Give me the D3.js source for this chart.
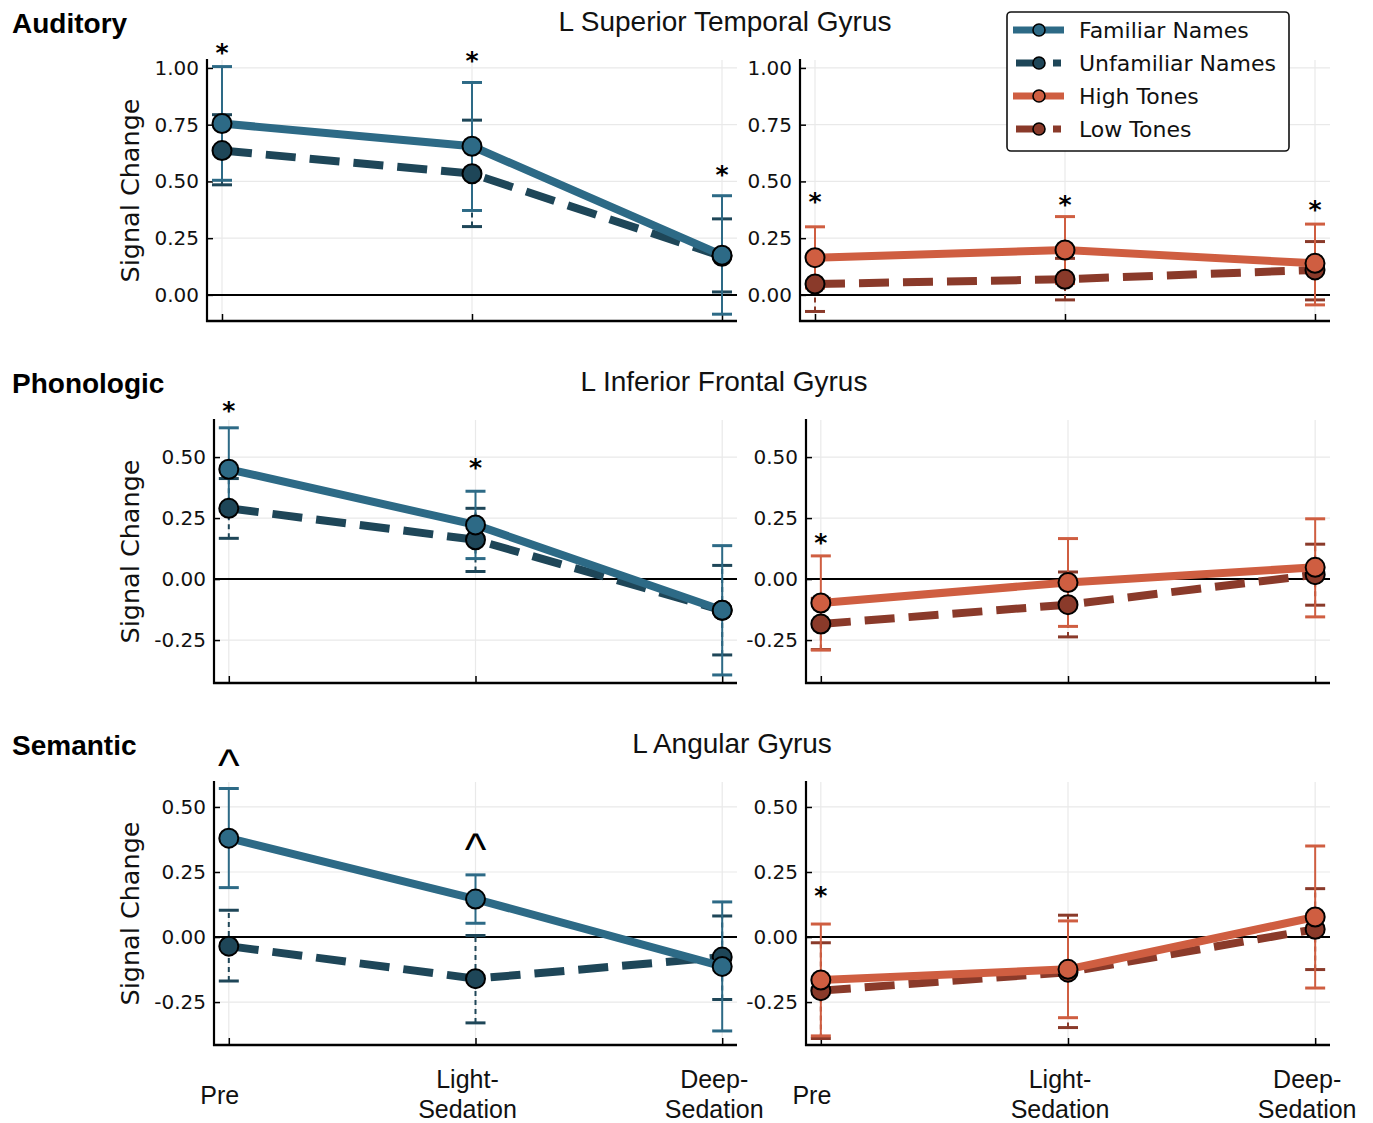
<!DOCTYPE html>
<html>
<head>
<meta charset="utf-8">
<script src="https://cdn.jsdelivr.net/npm/d3@7"></script>
<style>
body{margin:0;background:#fff}
svg{display:block}
</style>
</head>
<body>
<div id="chart"></div>
<script>
// data
var domains = ["Auditory","Phonologic","Semantic"]
var regions = ["L Superior Temporal Gyrus","L Inferior Frontal Gyrus","L Angular Gyrus"]
var stages = [["Pre"],["Light-","Sedation"],["Deep-","Sedation"]]
var yTicks = [[0,0.25,0.5,0.75,1.0],[-0.25,0,0.25,0.5],[-0.25,0,0.25,0.5]]

var familiarMean = [[0.755,0.655,0.175],[0.45,0.222,-0.128],[0.38,0.146,-0.113]]
var familiarLo   = [[0.505,0.372,-0.085],[0.28,0.084,-0.393],[0.19,0.053,-0.361]]
var familiarHi   = [[1.006,0.936,0.437],[0.62,0.36,0.137],[0.571,0.239,0.135]]

var unfamiliarMean = [[0.636,0.534,0.17],[0.29,0.161,-0.128],[-0.035,-0.16,-0.077]]
var unfamiliarLo   = [[0.485,0.301,0.013],[0.167,0.031,-0.311],[-0.169,-0.33,-0.24]]
var unfamiliarHi   = [[0.794,0.77,0.335],[0.412,0.29,0.056],[0.103,0.006,0.081]]

var highMean = [[0.164,0.198,0.139],[-0.098,-0.014,0.048],[-0.165,-0.124,0.077]]
var highLo   = [[0.03,0.05,-0.044],[-0.291,-0.194,-0.155],[-0.38,-0.31,-0.196]]
var highHi   = [[0.30,0.345,0.312],[0.095,0.166,0.247],[0.05,0.062,0.35]]

var lowMean = [[0.048,0.069,0.11],[-0.184,-0.105,0.018],[-0.206,-0.135,0.03]]
var lowLo   = [[-0.073,-0.022,-0.022],[-0.289,-0.237,-0.107],[-0.39,-0.348,-0.125]]
var lowHi   = [[0.169,0.161,0.235],[-0.079,0.029,0.143],[-0.022,0.084,0.186]]

// significance marks: [label, stage index, y value]
var namesMarks = [[["*",0,1.094],["*",1,1.057],["*",2,0.555]],[["*",0,0.712],["*",1,0.48]],[["^",0,0.686],["^",1,0.361]]]
var tonesMarks = [[["*",0,0.436],["*",1,0.421],["*",2,0.40]],[["*",0,0.174]],[["*",0,0.18]]]

var legendNames = ["Familiar Names","Unfamiliar Names","High Tones","Low Tones"]

// styling / layout
var cFam="#2d6a86", cUnf="#1e4658", cHigh="#cf5e41", cLow="#8a3a2a"
var rows=[
	{top:60,bottom:321,lefts:[207,800],yDom:[-0.115,1.035],titleX:725},
	{top:420,bottom:683,lefts:[214,806],yDom:[-0.426,0.652],titleX:724},
	{top:782,bottom:1045,lefts:[214,806],yDom:[-0.415,0.596],titleX:732}
]
var rights=[737,1330]
var tickFont="DejaVu Sans", helv="Liberation Sans, Arial, sans-serif"
var fmt=function(d){return d3.format(".2f")(d).replace("\u2212","-")}

var svg=d3.select("#chart").append("svg").attr("width",1373).attr("height",1123)

function drawPanel(ri,pi){
	var r=rows[ri]
	var left=r.lefts[pi], right=rights[pi]
	var x=d3.scaleLinear().domain([-0.06,2.06]).range([left,right])
	var y=d3.scaleLinear().domain(r.yDom).range([r.bottom,r.top])
	var g=svg.append("g")

	// grid
	g.selectAll(".gx").data(stages).enter().append("line")
		.attr("x1",function(d,i){return x(i)}).attr("x2",function(d,i){return x(i)})
		.attr("y1",r.top).attr("y2",r.bottom).attr("stroke","#e9e9e9").attr("stroke-width",1.2)
	g.selectAll(".gy").data(yTicks[ri]).enter().append("line")
		.attr("x1",left).attr("x2",right).attr("y1",function(d){return y(d)}).attr("y2",function(d){return y(d)})
		.attr("stroke","#e9e9e9").attr("stroke-width",1.2)
	// zero line
	g.append("line").attr("x1",left).attr("x2",right).attr("y1",y(0)).attr("y2",y(0)).attr("stroke","#000").attr("stroke-width",2)

	// axes
	var ya=d3.axisLeft(y).tickValues(yTicks[ri]).tickFormat(fmt).tickSize(-6).tickPadding(8)
	var yg=g.append("g").attr("transform","translate("+left+",0)").call(ya)
	yg.select(".domain").remove()
	yg.selectAll("line").attr("stroke","#000").attr("stroke-width",1.5)
	yg.selectAll("text").attr("font-family",tickFont).attr("font-size",20).attr("fill","#111")
	var xa=d3.axisBottom(x).tickValues([0,1,2]).tickFormat("").tickSize(-7)
	var xg=g.append("g").attr("transform","translate(0,"+r.bottom+")").call(xa)
	xg.select(".domain").remove()
	xg.selectAll("line").attr("stroke","#000").attr("stroke-width",1.5)
	g.append("line").attr("x1",left).attr("x2",left).attr("y1",r.top-1).attr("y2",r.bottom+1).attr("stroke","#000").attr("stroke-width",2.2)
	g.append("line").attr("x1",left-1).attr("x2",right).attr("y1",r.bottom).attr("y2",r.bottom).attr("stroke","#000").attr("stroke-width",2.4)

	var series = pi==0 ? [
		{color:cUnf,dashed:true,mean:unfamiliarMean[ri],lo:unfamiliarLo[ri],hi:unfamiliarHi[ri]},
		{color:cFam,dashed:false,mean:familiarMean[ri],lo:familiarLo[ri],hi:familiarHi[ri]}
	] : [
		{color:cLow,dashed:true,mean:lowMean[ri],lo:lowLo[ri],hi:lowHi[ri]},
		{color:cHigh,dashed:false,mean:highMean[ri],lo:highLo[ri],hi:highHi[ri]}
	]

	// error bars
	series.forEach(function(s){
		var eb=g.append("g")
		eb.selectAll("line.v").data(s.mean).enter().append("line")
			.attr("x1",function(d,i){return x(i)}).attr("x2",function(d,i){return x(i)})
			.attr("y1",function(d,i){return y(s.lo[i])}).attr("y2",function(d,i){return y(s.hi[i])})
			.attr("stroke",s.color).attr("stroke-width",2).attr("stroke-dasharray",s.dashed?"5,4":null)
		;["lo","hi"].forEach(function(k){
			eb.selectAll("line.c"+k).data(s[k]).enter().append("line")
				.attr("x1",function(d,i){return x(i)-10}).attr("x2",function(d,i){return x(i)+10})
				.attr("y1",function(d){return y(d)}).attr("y2",function(d){return y(d)})
				.attr("stroke",s.color).attr("stroke-width",3)
		})
	})
	// lines + markers
	series.forEach(function(s){
		var line=d3.line().x(function(d,i){return x(i)}).y(function(d){return y(d)})
		g.append("path").datum(s.mean).attr("d",line).attr("fill","none")
			.attr("stroke",s.color).attr("stroke-width",8)
			.attr("stroke-dasharray",s.dashed?"30,14":null)
		g.selectAll(null).data(s.mean).enter().append("circle")
			.attr("cx",function(d,i){return x(i)}).attr("cy",function(d){return y(d)}).attr("r",9.5)
			.attr("fill",s.color).attr("stroke","#000").attr("stroke-width",2)
	})

	// significance marks
	var marks = pi==0 ? namesMarks[ri] : tonesMarks[ri]
	g.selectAll(null).data(marks).enter().append("text")
		.attr("x",function(d){return x(d[1])})
		.attr("y",function(d){return d[0]=="*" ? y(d[2])+14 : y(d[2])+22})
		.attr("text-anchor","middle")
		.attr("font-family",function(d){return d[0]=="*"?tickFont:helv})
		.attr("font-weight",function(d){return d[0]=="*"?"bold":"normal"})
		.attr("font-size",function(d){return d[0]=="*"?25:46})
		.attr("fill","#000")
		.text(function(d){return d[0]})

	return x
}

rows.forEach(function(r,ri){
	drawPanel(ri,0)
	drawPanel(ri,1)
	svg.append("text").attr("x",12).attr("y",r.top-27).attr("font-family",helv).attr("font-weight","bold")
		.attr("font-size",28).attr("fill","#000").text(domains[ri])
	svg.append("text").attr("x",r.titleX).attr("y",r.top-29).attr("text-anchor","middle").attr("font-family",helv)
		.attr("font-size",28).attr("fill","#111").text(regions[ri])
	var cy=(r.top+r.bottom)/2
	svg.append("text").attr("transform","translate(139,"+cy+") rotate(-90)").attr("text-anchor","middle")
		.attr("font-family",tickFont).attr("font-size",25.5).attr("fill","#111").text("Signal Change")
})

// stage labels under the bottom row
var last=rows[2]
;[0,1].forEach(function(pi){
	var x=d3.scaleLinear().domain([-0.06,2.06]).range([last.lefts[pi],rights[pi]])
	stages.forEach(function(st,i){
		var t=svg.append("text").attr("text-anchor","middle").attr("font-family",helv).attr("font-size",25).attr("fill","#111")
		if(st.length==1){
			t.attr("x",x(i)-9).attr("y",1104).text(st[0])
		}else{
			st.forEach(function(s,j){
				t.append("tspan").attr("x",x(i)-8).attr("y",1088+j*30).text(s)
			})
		}
	})
})

// legend
var lg=svg.append("g")
lg.append("rect").attr("x",1007).attr("y",12).attr("width",282).attr("height",139).attr("rx",4)
	.attr("fill","#fff").attr("stroke","#111").attr("stroke-width",1.6)
var legendColors=[cFam,cUnf,cHigh,cLow], legendDash=[false,true,false,true]
legendNames.forEach(function(n,i){
	var yy=30+i*33
	lg.append("line").attr("x1",legendDash[i]?1016:1013).attr("x2",1064).attr("y1",yy).attr("y2",yy)
		.attr("stroke",legendColors[i]).attr("stroke-width",7)
		.attr("stroke-dasharray",legendDash[i]?"17,20,8,100":null)
	lg.append("circle").attr("cx",1039).attr("cy",yy).attr("r",6).attr("fill",legendColors[i]).attr("stroke","#000").attr("stroke-width",1.6)
	lg.append("text").attr("x",1079).attr("y",yy).attr("dy","0.36em").attr("font-family",tickFont)
		.attr("font-size",22).attr("fill","#111").text(n)
})
</script>
</body>
</html>
